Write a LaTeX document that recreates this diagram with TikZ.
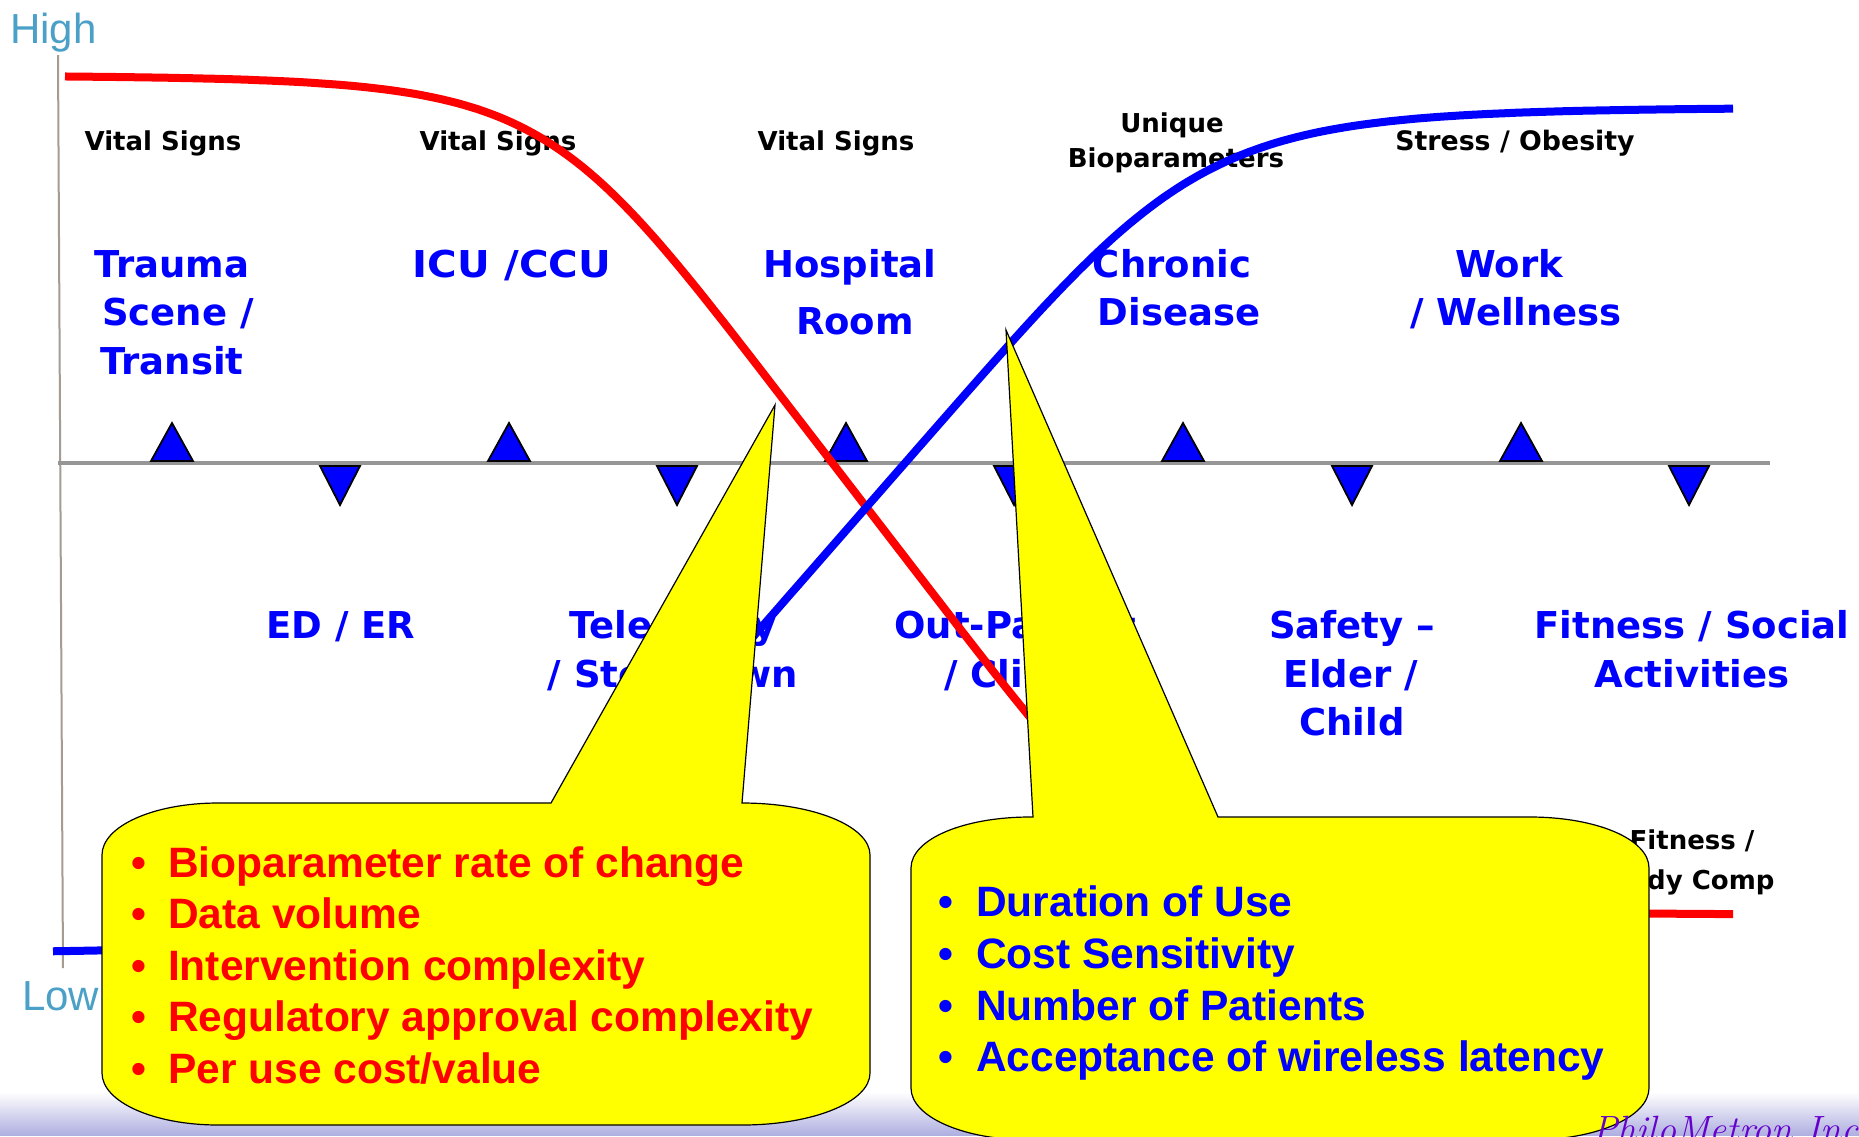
\documentclass[tikz,border=0pt]{standalone}
\usepackage{fontspec}
\newfontfamily\dejavu{DejaVu Sans}
\newfontfamily\libsans{Liberation Sans}
\definecolor{axisblue}{RGB}{75,160,200}
\definecolor{pureblue}{RGB}{0,0,255}
\definecolor{purered}{RGB}{255,0,0}
\definecolor{callyellow}{RGB}{255,255,0}
\definecolor{axisgray}{RGB}{150,150,150}
\definecolor{vaxis}{RGB}{165,155,145}
\definecolor{lavender}{RGB}{175,175,225}
\definecolor{philo}{RGB}{102,0,204}
\begin{document}
\begin{tikzpicture}[x=1pt,y=-1pt,
  declare function={sig(\u)=\u/pow(1+pow(abs(\u)+0.0001,4.6),1/4.6);},
  bluelbl/.style={inner sep=0pt, anchor=base, text=pureblue, font=\dejavu\bfseries\fontsize{37}{44}\selectfont},
  blklbl/.style={inner sep=0pt, anchor=base, text=black, font=\dejavu\bfseries\fontsize{26}{30}\selectfont},
  axislbl/.style={inner sep=0pt, anchor=base west, text=axisblue, font=\libsans\fontsize{42}{48}\selectfont},
  redbul/.style={inner sep=0pt, anchor=base west, text=purered, font=\libsans\bfseries\fontsize{42.5}{50}\selectfont},
  bluebul/.style={inner sep=0pt, anchor=base west, text=pureblue, font=\libsans\bfseries\fontsize{42.5}{50}\selectfont},
  uptri/.style={fill=pureblue, draw=black, line width=1.8pt, line join=miter},
  callout/.style={fill=callyellow, draw=black, line width=1.2pt, line join=miter},
  redcurve/.style={draw=purered, line width=8pt},
  bluecurve/.style={draw=pureblue, line width=8pt}
]
\clip (0,0) rectangle (1859,1136);
\fill[white] (0,0) rectangle (1859,1136);
% bottom gradient band
\foreach \i in {0,...,43} {
  \pgfmathsetmacro\p{100*\i/43}
  \fill[lavender!\p!white] (0,1092+\i) rectangle (1859,1093.3+\i);
}
% axes
\draw[vaxis, line width=2pt] (58,55) -- (63,968);
\draw[axisgray, line width=4.5pt] (58,463) -- (1770,463);
\node[axislbl] (hi) at (10,43) {High};
\node[axislbl] (lo) at (22,1010) {Low};
% top black labels
\node[blklbl] (vs1) at (163,150) {Vital Signs};
\node[blklbl] (vs2) at (498,150) {Vital Signs};
\node[blklbl] (vs3) at (836,150) {Vital Signs};
\node[blklbl] (uq1) at (1172,132) {Unique};
\node[blklbl] (uq2) at (1176,167) {Bioparameters};
\node[blklbl, font=\dejavu\bfseries\fontsize{26.8}{30}\selectfont] (so) at (1515,150) {Stress / Obesity};
\node[blklbl] (fb1) at (1692,849) {Fitness /};
\node[blklbl] (fb2) at (1692,889) {Body Comp};
% top blue labels
\node[bluelbl] (tr1) at (172,277) {Trauma};
\node[bluelbl] (tr2) at (178,325) {Scene /};
\node[bluelbl] (tr3) at (172,374) {Transit};
\node[bluelbl] (icu) at (512,277) {\scalebox{1.09}[1]{ICU /CCU}};
\node[bluelbl] (ho1) at (850,277) {Hospital};
\node[bluelbl] (ho2) at (855,334) {Room};
\node[bluelbl] (ch1) at (1172,277) {Chronic};
\node[bluelbl] (ch2) at (1179,325) {Disease};
\node[bluelbl] (wk1) at (1509,277) {Work};
\node[bluelbl] (wk2) at (1516,325) {/ Wellness};
% bottom blue labels
\node[bluelbl] (ed) at (341,638) {ED / ER};
\node[bluelbl] (te1) at (673,638) {Telemetry};
\node[bluelbl] (te2) at (673,687) {/ Step-down};
\node[bluelbl] (op1) at (1015,638) {Out-Patient};
\node[bluelbl] (op2) at (1014,687) {/ Clinic};
\node[bluelbl] (sf1) at (1352,638) {Safety –};
\node[bluelbl] (sf2) at (1351,687) {Elder /};
\node[bluelbl] (sf3) at (1352,735) {Child};
\node[bluelbl] (fs1) at (1692,638) {Fitness / Social};
\node[bluelbl] (fs2) at (1692,687) {Activities};
% triangles
\foreach \c in {172,509,846,1183,1521} {
  \draw[uptri] (\c,423) -- (\c+21,461) -- (\c-21,461) -- cycle;
}
\foreach \c in {340,677,1014,1352,1689} {
  \draw[uptri] (\c-20,466) -- (\c+20,466) -- (\c,505) -- cycle;
}
% curves
\draw[redcurve] plot[domain=65:1733, samples=240, variable=\x] ({\x}, {495+420*sig((\x-857)/323)});
\draw[bluecurve] plot[domain=53:1733, samples=240, variable=\x] ({\x}, {530.5-423.5*sig((\x-846)/370)});
% left callout
\draw[callout] (551,803) -- (775,405) -- (742,803)
  .. controls (813,803) and (870,826) .. (870,855) -- (870,1073)
  .. controls (870,1102) and (813,1125) .. (742,1125) -- (218,1125)
  .. controls (154,1125) and (102,1102) .. (102,1073) -- (102,855)
  .. controls (102,826) and (154,803) .. (218,803) -- cycle;
% right callout
\draw[callout] (1033,817) -- (1006,330) -- (1218,817) -- (1530,817)
  .. controls (1596,817) and (1649,839) .. (1649,868) -- (1649,1088)
  .. controls (1649,1117) and (1596,1140) .. (1530,1140) -- (1030,1140)
  .. controls (964,1140) and (911,1117) .. (911,1088) -- (911,868)
  .. controls (911,839) and (964,817) .. (1030,817) -- cycle;
% callout texts
\node[redbul] (r1) at (131,877) {\makebox[37pt][l]{•}Bioparameter rate of change};
\node[redbul] (r2) at (131,928) {\makebox[37pt][l]{•}Data volume};
\node[redbul] (r3) at (131,980) {\makebox[37pt][l]{•}Intervention complexity};
\node[redbul] (r4) at (131,1031) {\makebox[37pt][l]{•}Regulatory approval complexity};
\node[redbul] (r5) at (131,1083) {\makebox[37pt][l]{•}Per use cost/value};
\node[bluebul] (b1) at (938,916) {\makebox[38pt][l]{•}Duration of Use};
\node[bluebul] (b2) at (938,968) {\makebox[38pt][l]{•}Cost Sensitivity};
\node[bluebul] (b3) at (938,1020) {\makebox[38pt][l]{•}Number of Patients};
\node[bluebul] (b4) at (938,1071) {\makebox[38pt][l]{•}Acceptance of wireless latency};
% footer
\node[inner sep=0pt, anchor=base west, text=philo, font=\itshape\fontsize{38}{42}\selectfont] (pm) at (1592,1142) {PhiloMetron Inc};
\end{tikzpicture}
\end{document}
